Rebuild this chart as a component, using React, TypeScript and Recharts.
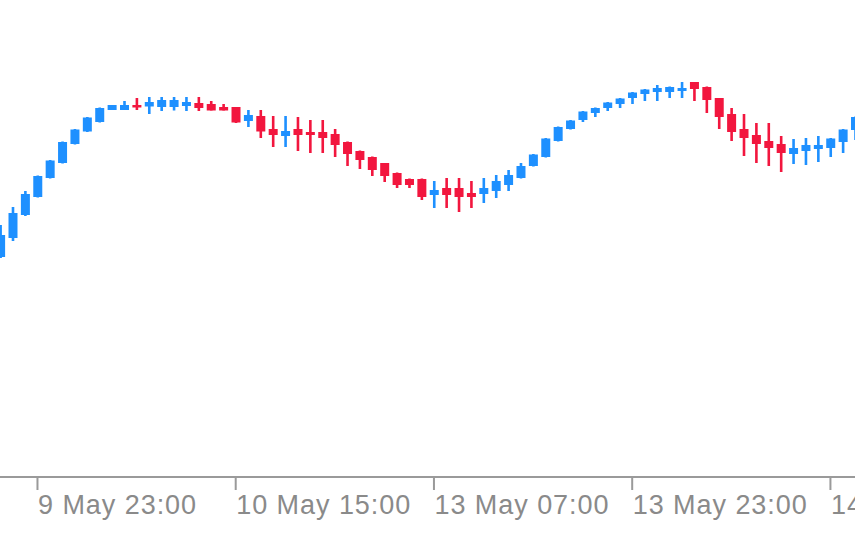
import React from "react";
import { ComposedChart, Bar, XAxis, YAxis } from "recharts";

// Hourly candles (price units), index 0..69
const openPrices = [
  220, 239, 262, 280, 299, 314, 333, 345.5, 355, 367,
  367, 372, 370.5, 370, 370, 371, 374, 373, 370, 370,
  356, 361, 348, 341, 348, 345, 345, 343, 335, 326,
  320, 314, 304, 298, 298, 282, 289, 289, 284, 283,
  286, 292, 299, 311, 320, 336, 348, 357, 364, 369,
  373, 379, 383, 385, 385, 386, 395, 390, 379, 363,
  348, 342, 336, 333, 323, 326, 328, 329, 335, 347,
];
const highPrices = [
  252, 270, 286, 301.5, 317, 335.5, 348, 360, 369.5, 372,
  376, 379, 380, 380, 380, 380, 380, 376, 373, 370,
  367, 367, 361, 361, 360, 357, 357, 348, 335.5, 326.5,
  320.5, 314, 304.5, 298.5, 298.5, 296, 299, 299, 296, 299,
  302, 307, 314, 323, 339, 350.5, 357, 366, 369.5, 375,
  379, 385, 388, 392, 390.5, 395, 395, 390.5, 379, 369,
  363, 354, 354, 341, 338, 339, 341, 339, 348, 360.5,
];
const lowPrices = [
  219, 236, 261, 279.5, 298.5, 313.5, 332.5, 345, 354.5, 367,
  367, 367, 363, 366, 366.5, 366, 366, 366.5, 366.5, 354,
  350, 339, 330, 330, 326, 324, 324, 320, 311, 308,
  301, 295, 289, 289, 277, 269, 269, 265, 269, 274,
  279, 286, 298.5, 310.5, 319.5, 335.5, 347.5, 355, 360, 366,
  369, 373, 376, 376, 379, 379, 376, 364, 348, 336,
  321, 314, 311, 305, 313, 312, 315, 320, 324, 337,
];
const closePrices = [
  242, 264, 283, 301, 316.5, 335, 347.5, 359.5, 369, 372,
  372, 369.5, 375, 377, 377, 375, 369, 366.5, 366.5, 354.5,
  362, 345.5, 342, 346, 342, 342, 339, 332, 323, 317,
  307, 301, 292, 292, 280, 287, 282, 280, 280, 289,
  296, 302, 311, 322.5, 338.5, 350, 356.5, 365.5, 369, 374.5,
  378.5, 384.5, 387.5, 389, 390, 389, 388, 377, 360, 345,
  339, 333, 329, 324, 329, 332, 332, 338.5, 347.5, 360,
];

const tickIndices = [3, 19, 35, 51, 67];
const tickLabels = ["9 May 23:00", "10 May 15:00", "13 May 07:00", "13 May 23:00", "14 May 15:00"];

const BULL = "#1E90FF";
const BEAR = "#F2163E";
const AXIS = "#9a9a9a";
const LABEL = "#8a8a8a";

const data = openPrices.map((o, i) => ({
  i,
  open: o,
  high: highPrices[i],
  low: lowPrices[i],
  close: closePrices[i],
  range: [lowPrices[i], highPrices[i]],
}));

const Candle = (props: any) => {
  const { x, y, width, height, payload } = props;
  if (!payload) return null;
  const top = Math.min(y, y + height);
  const bot = Math.max(y, y + height);
  const { open, close, high, low } = payload;
  const span = high - low;
  const pix = (v: number) => (span === 0 ? top : top + ((high - v) / span) * (bot - top));
  const cx = x + width / 2;
  const color = close >= open ? BULL : BEAR;
  const bTop = pix(Math.max(open, close));
  const bBot = pix(Math.min(open, close));
  return (
    <g>
      <rect x={cx - 1.3} y={top} width={2.6} height={Math.max(bot - top, 1)} fill={color} />
      <rect x={x} y={bTop} width={width} height={Math.max(bBot - bTop, 2.5)} fill={color} />
    </g>
  );
};

const Tick = (props: any) => {
  const { x, payload } = props;
  const idx = tickIndices.indexOf(payload.value);
  const label = idx >= 0 ? tickLabels[idx] : "";
  return (
    <g>
      <rect x={x - 1} y={477} width={2} height={13} fill={AXIS} />
      <text
        x={x + 0.5}
        y={514}
        textAnchor="start"
        fill={LABEL}
        fontSize={27}
        fontFamily="Liberation Sans, Arial, sans-serif"
        letterSpacing={0.95}
      >
        {label}
      </text>
    </g>
  );
};

const step = 12.39;
const domainMin = -0.3 / step;
const chartWidth = 900;
const domainMax = domainMin + chartWidth / step;

export default function App() {
  return (
    <div
      style={{
        position: "absolute",
        left: 0,
        top: 0,
        width: 855,
        height: 534,
        overflow: "hidden",
        background: "#ffffff",
      }}
    >
      <ComposedChart
        width={chartWidth}
        height={534}
        data={data}
        margin={{ top: 0, right: 0, bottom: 0, left: 0 }}
      >
        <XAxis
          dataKey="i"
          type="number"
          domain={[domainMin, domainMax]}
          allowDataOverflow
          ticks={tickIndices}
          interval={0}
          height={57}
          axisLine={{ stroke: AXIS, strokeWidth: 2 }}
          tickLine={false}
          tick={<Tick />}
        />
        <YAxis hide type="number" domain={[0, 477]} allowDataOverflow />
        <Bar dataKey="range" barSize={9} shape={<Candle />} isAnimationActive={false} />
      </ComposedChart>
    </div>
  );
}
